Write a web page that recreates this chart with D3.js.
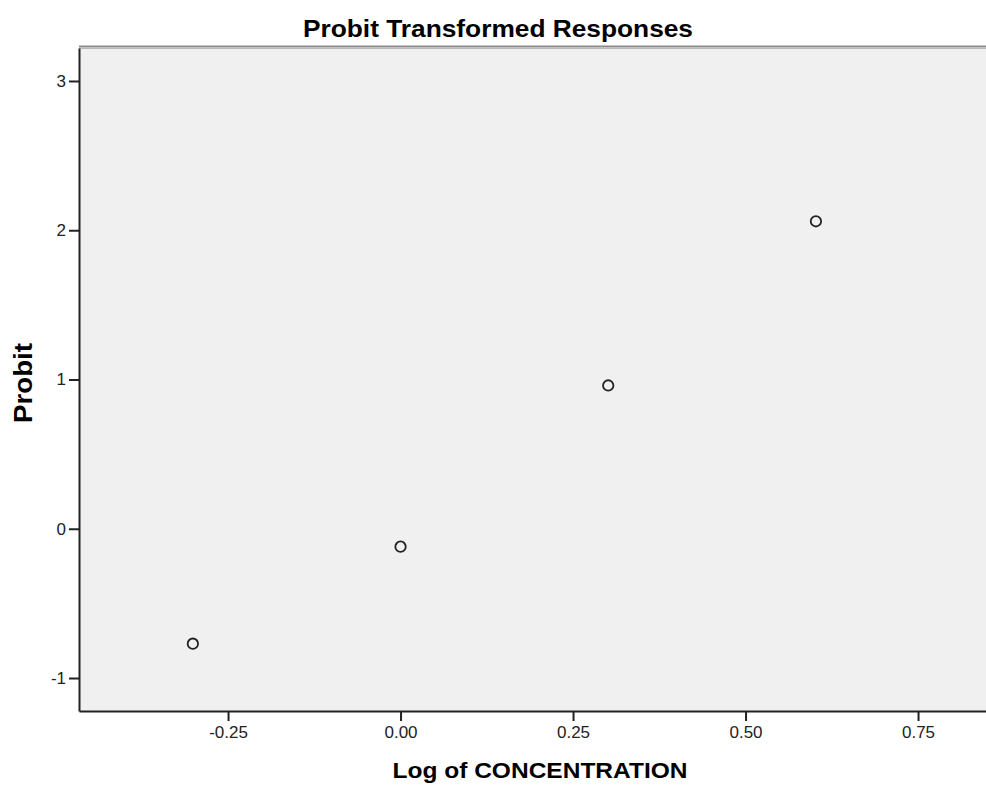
<!DOCTYPE html>
<html>
<head>
<meta charset="utf-8">
<script src="https://cdn.jsdelivr.net/npm/d3@7"></script>
<style>
  body { margin: 0; background: #fff; }
  text { font-family: "Liberation Sans", Arial, sans-serif; fill: #000; }
</style>
</head>
<body>
<svg id="chart" width="986" height="785"></svg>
<script>
// values
var logConc = [-0.301, 0.0, 0.301, 0.602];
var probit = [-0.77, -0.12, 0.96, 2.06];
var xTicks = [-0.25, 0.00, 0.25, 0.50, 0.75];
var yTicks = [-1, 0, 1, 2, 3];

var svg = d3.select("#chart");
var plotLeft = 79, plotRight = 986, plotTop = 48, plotBottom = 711;

var x = d3.scaleLinear().domain([-0.466, 0.8485]).range([plotLeft, plotRight]);
var y = d3.scaleLinear().domain([-1.221, 3.221]).range([plotBottom, plotTop]);

// hyphen instead of unicode minus, like the original
var fmtX = function(d) { return d3.format(".2f")(d).replace("\u2212", "-"); };
var fmtY = function(d) { return d3.format("d")(d).replace("\u2212", "-"); };

// plot background
svg.append("rect")
    .attr("x", plotLeft).attr("y", plotTop)
    .attr("width", plotRight - plotLeft).attr("height", plotBottom - plotTop)
    .style("fill", "#f0f0f0");

// grey double top frame
svg.append("line").attr("x1", plotLeft).attr("x2", plotRight).attr("y1", plotTop - 1.5).attr("y2", plotTop - 1.5)
    .style("stroke", "#8a8a8a").style("stroke-width", 2);
svg.append("line").attr("x1", plotLeft).attr("x2", plotRight).attr("y1", plotTop + 0.5).attr("y2", plotTop + 0.5)
    .style("stroke", "#b8b8b8").style("stroke-width", 1);

var xAxis = svg.append("g")
    .attr("transform", "translate(0," + plotBottom + ")")
    .call(d3.axisBottom(x).tickValues(xTicks).tickFormat(fmtX).tickSize(10).tickSizeOuter(0).tickPadding(5));
var yAxis = svg.append("g")
    .attr("transform", "translate(" + plotLeft + ",0)")
    .call(d3.axisLeft(y).tickValues(yTicks).tickFormat(fmtY).tickSize(10).tickSizeOuter(0).tickPadding(3));

[xAxis, yAxis].forEach(function(a) {
    a.select(".domain").style("stroke", "#222").style("stroke-width", 2);
    a.selectAll(".tick line").style("stroke", "#222").style("stroke-width", 2);
    a.selectAll(".tick text").style("font-size", "17px").style("fill", "#222");
});

// points
svg.append("g").selectAll("circle")
    .data(logConc)
    .enter().append("circle")
    .attr("cx", function(d) { return x(d); })
    .attr("cy", function(d, i) { return y(probit[i]); })
    .attr("r", 5.2)
    .style("fill", "none")
    .style("stroke", "#222")
    .style("stroke-width", 1.8);

// titles
svg.append("text")
    .attr("x", 498).attr("y", 37)
    .attr("text-anchor", "middle")
    .attr("textLength", 390).attr("lengthAdjust", "spacingAndGlyphs")
    .style("font-weight", "bold").style("font-size", "24.5px")
    .text("Probit Transformed Responses");

svg.append("text")
    .attr("x", 540).attr("y", 778)
    .attr("text-anchor", "middle")
    .attr("textLength", 295).attr("lengthAdjust", "spacingAndGlyphs")
    .style("font-weight", "bold").style("font-size", "22px")
    .text("Log of CONCENTRATION");

svg.append("text")
    .attr("transform", "translate(32,383) rotate(-90)")
    .attr("text-anchor", "middle")
    .attr("textLength", 80).attr("lengthAdjust", "spacingAndGlyphs")
    .style("font-weight", "bold").style("font-size", "25px")
    .text("Probit");
</script>
</body>
</html>
